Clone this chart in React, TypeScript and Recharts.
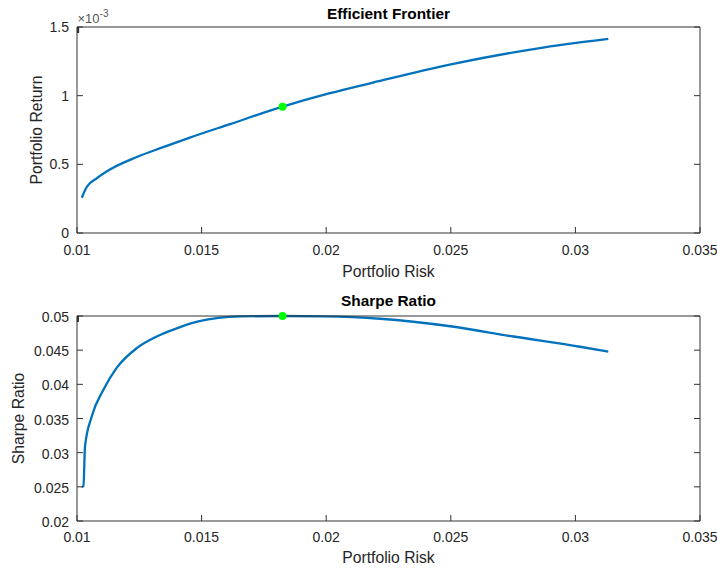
import React from 'react';
import { LineChart, Line, XAxis, YAxis, ReferenceDot } from 'recharts';

// ---- Data ----
const frontierRisk = [0.01019, 0.01039, 0.01079, 0.01132, 0.0124, 0.01346, 0.01453, 0.01614, 0.01825, 0.02015, 0.02176, 0.0251, 0.02845, 0.03132];
const frontierReturn = [0.000257, 0.000335, 0.000398, 0.000462, 0.000553, 0.000625, 0.000695, 0.000793, 0.00092, 0.001018, 0.00109, 0.001232, 0.001343, 0.001413];

const sharpeRisk = [0.01019, 0.01026, 0.01032, 0.01059, 0.01106, 0.01159, 0.0124, 0.0132, 0.014, 0.01487, 0.01654, 0.01825, 0.01988, 0.02216, 0.02498, 0.02751, 0.03018, 0.03132];
const sharpeValues = [0.025, 0.0251, 0.0309, 0.0353, 0.0392, 0.0424, 0.0453, 0.047, 0.0482, 0.0492, 0.04995, 0.05, 0.04995, 0.0496, 0.0485, 0.047, 0.0455, 0.0448];

const optimalRisk = 0.01825;
const optimalReturn = 0.00092;
const optimalSharpe = 0.05;

const riskTicks = [0.01, 0.015, 0.02, 0.025, 0.03, 0.035];
const riskTickLabels = ['0.01', '0.015', '0.02', '0.025', '0.03', '0.035'];
const returnTicks = [0, 0.0005, 0.001, 0.0015];
const returnTickLabels = ['0', '0.5', '1', '1.5'];
const sharpeTicks = [0.02, 0.025, 0.03, 0.035, 0.04, 0.045, 0.05];
const sharpeTickLabels = ['0.02', '0.025', '0.03', '0.035', '0.04', '0.045', '0.05'];

const frontierData = frontierRisk.map((r, i) => ({ risk: r, ret: frontierReturn[i] }));
const sharpeData = sharpeRisk.map((r, i) => ({ risk: r, sharpe: sharpeValues[i] }));

const FONT = '"Liberation Sans", Arial, Helvetica, sans-serif';
const TEXT = '#262626';
const AXIS = '#333333';
const BLUE = '#0072BD';

const labelFor = (ticks: number[], labels: string[], v: number) => {
  const i = ticks.findIndex((t) => Math.abs(t - v) < 1e-9);
  return i >= 0 ? labels[i] : String(v);
};

const makeXTick = (ticks: number[], labels: string[]) => (p: any) => (
  <text x={p.x} y={p.y} textAnchor="middle" fontSize={14} fontFamily={FONT} fill={TEXT}>
    {labelFor(ticks, labels, p.payload.value)}
  </text>
);
const makeYTick = (ticks: number[], labels: string[], dy: number) => (p: any) => (
  <text x={p.x} y={p.y + dy} textAnchor="end" fontSize={14} fontFamily={FONT} fill={TEXT}>
    {labelFor(ticks, labels, p.payload.value)}
  </text>
);
const noTick = () => <g />;

const axisLine = { stroke: AXIS, strokeWidth: 1 };
const tickLine = { stroke: AXIS, strokeWidth: 1 };

export default function App() {
  return (
    <div style={{ position: 'absolute', left: 0, top: 0, width: 717, height: 570, background: '#fff' }}>
      {/* Efficient Frontier */}
      <div style={{ position: 'absolute', left: 0, top: 0 }}>
        <LineChart width={717} height={285} data={frontierData} margin={{ top: 0, right: 0, bottom: 0, left: 0 }}>
          <XAxis dataKey="risk" type="number" domain={[0.01, 0.035]} ticks={riskTicks} allowDataOverflow
            height={52} axisLine={axisLine} tickLine={tickLine} tickSize={-6} tickMargin={28}
            tick={makeXTick(riskTicks, riskTickLabels)} interval={0} />
          <XAxis xAxisId="top" orientation="top" type="number" domain={[0.01, 0.035]} ticks={riskTicks} allowDataOverflow
            height={27} axisLine={axisLine} tickLine={tickLine} tickSize={-6} tick={noTick} interval={0} />
          <YAxis type="number" domain={[0, 0.0015]} ticks={returnTicks} allowDataOverflow width={77}
            axisLine={axisLine} tickLine={tickLine} tickSize={-6} tickMargin={14}
            tick={makeYTick(returnTicks, returnTickLabels, 5)} interval={0} />
          <YAxis yAxisId="right" orientation="right" type="number" domain={[0, 0.0015]} ticks={returnTicks} allowDataOverflow width={17}
            axisLine={axisLine} tickLine={tickLine} tickSize={-6} tick={noTick} interval={0} />
          <Line dataKey="ret" type="monotone" stroke={BLUE} strokeWidth={2.3} dot={false} isAnimationActive={false} />
          <ReferenceDot x={optimalRisk} y={optimalReturn} r={4} fill="#00ff00" stroke="none" ifOverflow="visible" />
          <text x={388.5} y={19} textAnchor="middle" fontSize={15.4} fontWeight="bold" fontFamily={FONT} fill="#000">Efficient Frontier</text>
          <text x={388.5} y={276.5} textAnchor="middle" fontSize={15.7} fontFamily={FONT} fill={TEXT}>Portfolio Risk</text>
          <text x={41.5} y={130} textAnchor="middle" fontSize={15.7} fontFamily={FONT} fill={TEXT} transform="rotate(-90 41.5 130)">Portfolio Return</text>
          <text x={77.5} y={23} fontSize={13} fontFamily={FONT} fill="#555">
            ×10<tspan fontSize={10} dy={-6}>-3</tspan>
          </text>
        </LineChart>
      </div>
      {/* Sharpe Ratio */}
      <div style={{ position: 'absolute', left: 0, top: 285 }}>
        <LineChart width={717} height={285} data={sharpeData} margin={{ top: 0, right: 0, bottom: 0, left: 0 }}>
          <XAxis dataKey="risk" type="number" domain={[0.01, 0.035]} ticks={riskTicks} allowDataOverflow
            height={49} axisLine={axisLine} tickLine={tickLine} tickSize={-6} tickMargin={27}
            tick={makeXTick(riskTicks, riskTickLabels)} interval={0} />
          <XAxis xAxisId="top" orientation="top" type="number" domain={[0.01, 0.035]} ticks={riskTicks} allowDataOverflow
            height={31} axisLine={axisLine} tickLine={tickLine} tickSize={-6} tick={noTick} interval={0} />
          <YAxis type="number" domain={[0.02, 0.05]} ticks={sharpeTicks} width={77}
            axisLine={axisLine} tickLine={tickLine} tickSize={-6} tickMargin={14}
            tick={makeYTick(sharpeTicks, sharpeTickLabels, 6)} interval={0} />
          <YAxis yAxisId="right" orientation="right" type="number" domain={[0.02, 0.05]} ticks={sharpeTicks} allowDataOverflow width={17}
            axisLine={axisLine} tickLine={tickLine} tickSize={-6} tick={noTick} interval={0} />
          <Line dataKey="sharpe" type="monotone" stroke={BLUE} strokeWidth={2.3} dot={false} isAnimationActive={false} />
          <ReferenceDot x={optimalRisk} y={optimalSharpe} r={4} fill="#00ff00" stroke="none" ifOverflow="visible" />
          <text x={388.5} y={21} textAnchor="middle" fontSize={15.4} fontWeight="bold" fontFamily={FONT} fill="#000">Sharpe Ratio</text>
          <text x={388.5} y={278} textAnchor="middle" fontSize={15.7} fontFamily={FONT} fill={TEXT}>Portfolio Risk</text>
          <text x={24} y={133.5} textAnchor="middle" fontSize={15.7} fontFamily={FONT} fill={TEXT} transform="rotate(-90 24 133.5)">Sharpe Ratio</text>
        </LineChart>
      </div>
    </div>
  );
}
